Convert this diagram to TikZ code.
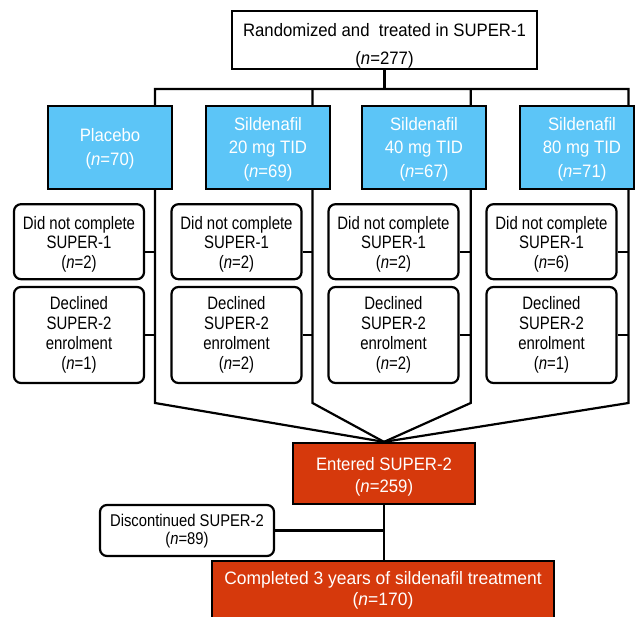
\documentclass[tikz,border=0pt]{standalone}
\usepackage{fontspec}
\setmainfont{Liberation Sans}
\newfontfamily\mainf[FakeStretch=0.93]{Liberation Sans}
\newfontfamily\fullf[FakeStretch=0.97]{Liberation Sans}
\newfontfamily\narrowf[FakeStretch=0.83]{Liberation Sans}
\newfontfamily\discf[FakeStretch=0.87]{Liberation Sans}
\usetikzlibrary{backgrounds}
\definecolor{boxblue}{RGB}{92,197,247}
\definecolor{boxred}{RGB}{214,57,12}
\begin{document}
\begin{tikzpicture}[x=1pt,y=-1pt,line width=2.2pt,
  boxbase/.style={draw=black,line width=2.2pt,inner sep=0pt,align=center},
  topbox/.style={boxbase,fill=white,font=\mainf\fontsize{18}{28}\selectfont},
  bluebox/.style={boxbase,fill=boxblue,text=white,minimum width=124pt,minimum height=83pt,font=\mainf\fontsize{18}{23.5}\selectfont},
  notbox/.style={boxbase,fill=white,rounded corners=7pt,minimum width=130pt,minimum height=75pt,font=\narrowf\fontsize{18}{19.75}\selectfont},
  declbox/.style={boxbase,fill=white,rounded corners=7pt,minimum width=130pt,minimum height=96pt,font=\narrowf\fontsize{18}{20.2}\selectfont},
  redbox/.style={boxbase,fill=boxred,text=white},
  discbox/.style={boxbase,fill=white,rounded corners=7pt,minimum width=174pt,minimum height=51pt,font=\discf\fontsize{17}{17.8}\selectfont},
  conn/.style={draw=black,line width=2.2pt,line join=miter}
]
\useasboundingbox (0,0) rectangle (635,617);
\clip (0,0) rectangle (635,617);

% top box
\node[topbox,minimum width=305pt,minimum height=58pt] (top) at (384.5,40)
  {\rule{0pt}{24pt}Randomized and \ treated in SUPER-1\\(\textit{n}=277)};

% treatment arms
\node[bluebox] (b1) at (110,147.5) {\rule{0pt}{15.5pt}Placebo\\(\textit{n}=70)};
\node[bluebox] (b2) at (268,147.5) {\rule{0pt}{16pt}Sildenafil\\20 mg TID\\(\textit{n}=69)};
\node[bluebox] (b3) at (424,147.5) {\rule{0pt}{16pt}Sildenafil\\40 mg TID\\(\textit{n}=67)};
\node[bluebox,minimum width=114pt] (b4) at (577,147.5)
  {\rule{0pt}{16pt}\hspace*{10pt}Sildenafil\\\hspace*{10pt}80 mg TID\\\hspace*{10pt}(\textit{n}=71)};

% did not complete
\node[notbox] (d1) at (79,241.7) {\rule{0pt}{18pt}Did not complete\\SUPER-1\\(\textit{n}=2)};
\node[notbox] (d2) at (236.5,241.7) {\rule{0pt}{18pt}Did not complete\\SUPER-1\\(\textit{n}=2)};
\node[notbox] (d3) at (393.5,241.7) {\rule{0pt}{18pt}Did not complete\\SUPER-1\\(\textit{n}=2)};
\node[notbox] (d4) at (551.5,241.7) {\rule{0pt}{18pt}Did not complete\\SUPER-1\\(\textit{n}=6)};

% declined
\node[declbox] (e1) at (79,335) {Declined\\SUPER-2\\enrolment\\(\textit{n}=1)};
\node[declbox] (e2) at (236.5,335) {Declined\\SUPER-2\\enrolment\\(\textit{n}=2)};
\node[declbox] (e3) at (393.5,335) {Declined\\SUPER-2\\enrolment\\(\textit{n}=2)};
\node[declbox] (e4) at (551.5,335) {Declined\\SUPER-2\\enrolment\\(\textit{n}=1)};

% SUPER-2
\node[redbox,minimum width=182pt,minimum height=61pt,font=\mainf\fontsize{18}{22}\selectfont] (ent) at (384,473.5)
  {\rule{0pt}{19pt}Entered SUPER-2\\(\textit{n}=259)};
\node[discbox] (disc) at (187,530.5) {\rule{0pt}{14pt}Discontinued SUPER-2\\(\textit{n}=89)};
\node[redbox,minimum width=342pt,minimum height=59pt,font=\fullf\fontsize{18}{21.2}\selectfont] (comp) at (383,590.4)
  {Completed 3 years of sildenafil treatment\\(\textit{n}=170)};

% connectors
\coordinate (split) at (384.5,89);
\coordinate (h1) at (155,89);
\coordinate (h2) at (312.5,89);
\coordinate (h3) at (470.7,89);
\coordinate (h4) at (628.5,89);
\coordinate (k1) at (155,403);
\coordinate (k2) at (312.5,403);
\coordinate (k3) at (470.7,403);
\coordinate (k4) at (628.5,403);
\coordinate (d1c) at ([yshift=-10.5pt]d1.east);
\coordinate (d2c) at ([yshift=-10.5pt]d2.east);
\coordinate (d3c) at ([yshift=-10.5pt]d3.east);
\coordinate (d4c) at ([yshift=-10.5pt]d4.east);

\begin{scope}[on background layer]
  \fill[white] (0,0) rectangle (635,617);
  \draw[conn] (top.south) -- (split);
  \draw[conn] (ent.north) -- (k1) -- (h1) -- (h4) -- (k4) -- (ent.north);
  \draw[conn] (h2) -- (k2) -- (ent.north);
  \draw[conn] (h3) -- (k3) -- (ent.north);
  \draw[conn] (d1c) -- (d1c -| k1);
  \draw[conn] (d2c) -- (d2c -| k2);
  \draw[conn] (d3c) -- (d3c -| k3);
  \draw[conn] (d4c) -- (d4c -| k4);
  \draw[conn] (e1.east) -- (e1.east -| k1);
  \draw[conn] (e2.east) -- (e2.east -| k2);
  \draw[conn] (e3.east) -- (e3.east -| k3);
  \draw[conn] (e4.east) -- (e4.east -| k4);
  \draw[conn] (ent.south) -- (ent.south |- comp.north);
  \draw[conn] (disc.east) -- (disc.east -| ent.south);
\end{scope}
\end{tikzpicture}
\end{document}
